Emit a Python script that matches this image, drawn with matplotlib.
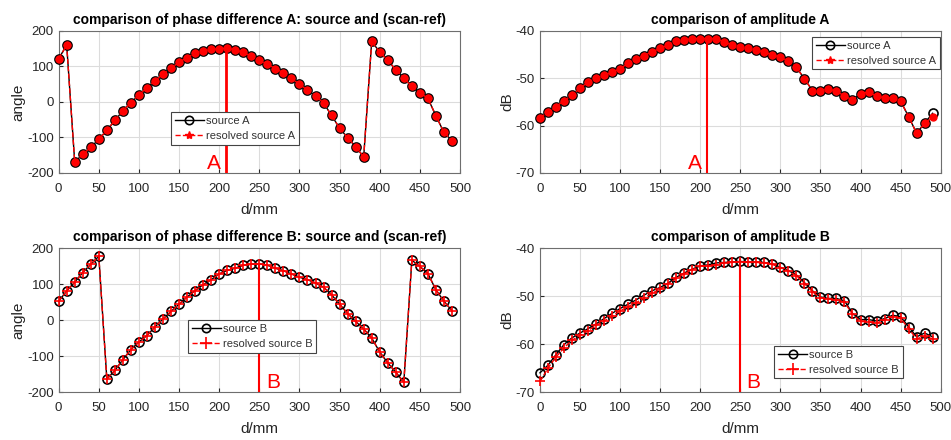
import matplotlib
matplotlib.use('Agg')
import matplotlib.pyplot as plt
from matplotlib.lines import Line2D
import numpy as np

plt.rcParams['font.family'] = ['Liberation Sans', 'DejaVu Sans']
plt.rcParams['axes.unicode_minus'] = False

#----------------------------------------------------------
# DATA
#----------------------------------------------------------
d = np.arange(0, 500, 10)

phase_A = [122, 160, -170, -147, -128, -105, -80, -52, -25, -2,
           20, 40, 60, 78, 95, 112, 125, 137, 143, 148,
           150, 151, 147, 140, 128, 118, 106, 94, 82, 66,
           50, 33, 17, -3, -38, -74, -101, -126, -155, 171,
           140, 117, 91, 66, 44, 26, 10, -39, -86, -109]
phase_A_res = list(phase_A)

amp_A = [-58.5, -57.2, -56.0, -54.7, -53.6, -52.1, -50.8, -50.0, -49.4, -48.7,
         -48.0, -46.8, -45.9, -45.2, -44.4, -43.7, -42.9, -42.2, -41.9, -41.7,
         -41.6, -41.6, -41.8, -42.4, -42.9, -43.3, -43.6, -44.0, -44.5, -45.0,
         -45.6, -46.3, -47.7, -50.1, -52.6, -52.6, -52.3, -52.7, -53.8, -54.5,
         -53.3, -52.9, -53.8, -54.1, -54.1, -54.8, -58.1, -61.6, -59.5, -57.4]
amp_A_res = [-58.3, -57.2, -56.0, -54.7, -53.6, -52.1, -50.8, -50.0, -49.4, -48.7,
             -48.0, -46.8, -45.9, -45.2, -44.4, -43.7, -42.9, -42.2, -41.9, -41.6,
             -41.6, -41.6, -41.6, -42.4, -42.9, -43.3, -43.6, -44.0, -44.5, -45.0,
             -45.6, -46.3, -47.7, -50.1, -52.6, -52.6, -52.3, -52.7, -53.8, -54.5,
             -53.3, -52.9, -53.8, -54.1, -54.1, -54.8, -58.1, -61.6, -59.5, -58.2]

phase_B = [52, 81, 105, 132, 155, 177, -164, -140, -110, -82,
           -61, -43, -19, 3, 24, 44, 64, 82, 98, 112,
           128, 138, 144, 152, 155, 156, 152, 144, 137, 128,
           119, 112, 103, 91, 70, 44, 18, -4, -25, -50,
           -89, -119, -145, -173, 166, 149, 129, 84, 52, 26]
phase_B_res = list(phase_B)

amp_B = [-66.0, -64.4, -62.2, -60.1, -58.7, -57.7, -56.8, -55.8, -54.7, -53.6,
         -52.6, -51.7, -50.8, -49.8, -48.9, -48.2, -47.3, -46.1, -45.2, -44.4,
         -43.7, -43.5, -43.1, -43.0, -42.9, -42.8, -42.9, -42.9, -43.0, -43.3,
         -44.0, -44.7, -45.6, -47.2, -48.9, -50.2, -50.5, -50.5, -51.0, -53.6,
         -54.9, -54.9, -55.2, -54.7, -54.0, -54.3, -56.4, -58.5, -57.7, -58.5]
amp_B_res = [-67.8, -65.0, -62.7, -60.8, -59.2, -58.2, -57.2, -56.1, -55.2, -54.2,
             -53.1, -52.2, -51.4, -50.4, -49.4, -48.6, -47.5, -46.3, -45.4, -44.5,
             -43.8, -43.7, -43.5, -43.1, -43.0, -42.9, -43.0, -43.0, -43.1, -43.4,
             -44.1, -44.8, -45.8, -47.4, -49.1, -50.4, -50.6, -50.8, -51.3, -53.8,
             -55.3, -55.4, -55.6, -55.0, -54.3, -54.6, -56.8, -58.9, -58.4, -58.9]

src_pos = {'A': 208, 'B': 250}

#----------------------------------------------------------
# FIGURE
#----------------------------------------------------------
fig = plt.figure(figsize=(9.51, 4.40), dpi=100)
ax_pa = fig.add_axes([0.0617, 0.607, 0.422, 0.3227])
ax_aa = fig.add_axes([0.5678, 0.607, 0.4213, 0.3227])
ax_pb = fig.add_axes([0.0617, 0.109, 0.422, 0.3273])
ax_ab = fig.add_axes([0.5678, 0.109, 0.4213, 0.3273])

tick_col = '#262626'


def style(ax, title, ylabel, ylim, yticks):
    ax.set_xlim(0, 500)
    ax.set_ylim(ylim)
    ax.set_xticks(np.arange(0, 501, 50))
    ax.set_yticks(yticks)
    ax.grid(True, color='#dcdcdc', lw=0.8)
    ax.set_axisbelow(True)
    ax.tick_params(direction='in', labelsize=9.5, colors=tick_col, length=3)
    ax.tick_params(axis='x', pad=7)
    for s in ax.spines.values():
        s.set_color('#6e6e6e')
        s.set_linewidth(0.8)
    ax.set_title(title, fontsize=10, fontweight='bold', pad=5)
    ax.set_xlabel('d/mm', fontsize=11, color=tick_col, labelpad=6)
    ax.set_ylabel(ylabel, fontsize=11, color=tick_col, labelpad=1)


def draw_A(ax, y, y_res):
    ax.plot(d, y, '-', color='black', lw=1, marker='o', ms=6.5,
            mfc='none', mec='black', mew=1.2, zorder=3, clip_on=False)
    ax.plot(d, y_res, '--', color='red', lw=1, marker='o', ms=5,
            mfc='red', mec='red', zorder=4, clip_on=False)
    return [Line2D([], [], color='black', lw=1, marker='o', ms=6, mfc='none', mew=1.2),
            Line2D([], [], color='red', lw=1, ls='--', marker='*', ms=6)]


def draw_B(ax, y, y_res):
    ax.plot(d, y, '-', color='black', lw=1, marker='o', ms=6.5,
            mfc='none', mec='black', mew=1.2, zorder=3, clip_on=False)
    ax.plot(d, y_res, '--', color='red', lw=1, marker='+', ms=7,
            mew=1.2, zorder=4, clip_on=False)
    return [Line2D([], [], color='black', lw=1, marker='o', ms=6, mfc='none', mew=1.2),
            Line2D([], [], color='red', lw=1, ls='--', marker='+', ms=9, mew=1.2)]


def legend(ax, handles, labels, loc, anchor):
    lg = ax.legend(handles, labels, loc=loc, bbox_to_anchor=anchor, fontsize=8,
                   fancybox=False, framealpha=1, edgecolor='#444444',
                   handlelength=2.6, handletextpad=0.2, borderpad=0.35,
                   labelspacing=0.45, borderaxespad=0)
    lg.get_frame().set_linewidth(0.8)
    lg.set_zorder(10)
    for t in lg.get_texts():
        t.set_color('#333333')


# phase A
style(ax_pa, 'comparison of phase difference A: source and (scan-ref)', 'angle',
      (-200, 200), [-200, -100, 0, 100, 200])
h = draw_A(ax_pa, phase_A, phase_A_res)
ax_pa.plot([src_pos['A']] * 2, [-200, 155], color='red', lw=2, zorder=5)
ax_pa.text(src_pos['A'] - 6, -200, 'A', color='red', fontsize=15, ha='right', va='bottom')
legend(ax_pa, h, ['source A', 'resolved source A'], 'upper left', (0.28, 0.43))

# amplitude A
style(ax_aa, 'comparison of amplitude A', 'dB', (-70, -40), [-70, -60, -50, -40])
h = draw_A(ax_aa, amp_A, amp_A_res)
ax_aa.plot([src_pos['A']] * 2, [-70, -41.5], color='red', lw=1.5, zorder=5)
ax_aa.text(src_pos['A'] - 6, -70, 'A', color='red', fontsize=15, ha='right', va='bottom')
legend(ax_aa, h, ['source A', 'resolved source A'], 'upper right', (0.998, 0.96))

# phase B
style(ax_pb, 'comparison of phase difference B: source and (scan-ref)', 'angle',
      (-200, 200), [-200, -100, 0, 100, 200])
h = draw_B(ax_pb, phase_B, phase_B_res)
ax_pb.plot([src_pos['B']] * 2, [-200, 155], color='red', lw=1.5, zorder=5)
ax_pb.text(src_pos['B'] + 8, -200, 'B', color='red', fontsize=15, ha='left', va='bottom')
legend(ax_pb, h, ['source B', 'resolved source B'], 'upper left', (0.322, 0.5))

# amplitude B
style(ax_ab, 'comparison of amplitude B', 'dB', (-70, -40), [-70, -60, -50, -40])
h = draw_B(ax_ab, amp_B, amp_B_res)
ax_ab.plot([src_pos['B']] * 2, [-70, -42.5], color='red', lw=1.5, zorder=5)
ax_ab.text(src_pos['B'] + 8, -70, 'B', color='red', fontsize=15, ha='left', va='bottom')
legend(ax_ab, h, ['source B', 'resolved source B'], 'upper right', (0.906, 0.322))

fig.savefig('out.png', dpi=100)
